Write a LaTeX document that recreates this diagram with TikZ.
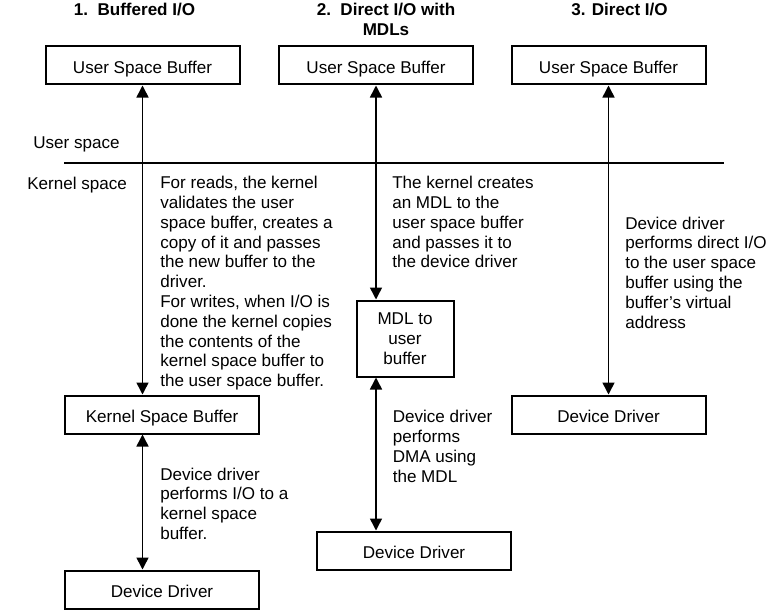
\documentclass[tikz,border=0pt]{standalone}
\usepackage{fontspec}
\setmainfont{Liberation Sans}
\usepackage{tikz}
\usetikzlibrary{positioning,arrows.meta}

\tikzset{
  box/.style={draw, line width=1.5pt, minimum width=145.5pt, minimum height=28.5pt, inner sep=0pt},
  oneline/.style={text height=11.5pt, text depth=0pt},
  note/.style={anchor=north west, inner sep=0pt, align=left},
  title/.style={anchor=north, inner sep=0pt, align=center, font=\fontsize{12.8}{14.85}\selectfont\bfseries},
  link/.style={<->, line width=1.15pt, >={Triangle[width=9pt,length=9pt]}}
}

\begin{document}
\begin{tikzpicture}[x=0.75pt, y=-0.75pt, font=\fontsize{12.8}{14.85}\selectfont]
            \useasboundingbox (0,0) rectangle (774,610);

            % titles
            \node (t1) at (134.5,3) [title] {1.\ \ Buffered I/O};
            \node (t2) at (386,3) [title] {2.\ \ Direct I/O with\\MDLs};
            \node (t3) at (619.5,3) [title] {3. Direct I/O};

            % user space buffers
            \node (usb1) at (142.5,65.5) [box, oneline] {User Space Buffer};
            \node (usb2) at (376,65.5) [box, oneline] {User Space Buffer};
            \node (usb3) at (608.5,65.5) [box, oneline] {User Space Buffer};

            % user / kernel boundary
            \node (user) at (33,136.5) [note] {User space};
            \node (kernel) at (27,176.5) [note] {Kernel space};
            \coordinate (lineL) at (64,163);
            \coordinate (lineR) at (724,163);
            \draw[line width=1.5pt] (lineL) -- (lineR);

            % kernel side boxes
            \node (ksb) at (162,414.5) [box, oneline] {Kernel Space Buffer};
            \node (dd1) at (162,589.5) [box, oneline] {Device Driver};
            \node (mdl) at (405,338.5) [box, minimum width=72.75pt, minimum height=57pt, align=center] {MDL to\\user\\buffer};
            \node (dd2) at (414,550.5) [box, oneline] {Device Driver};
            \node (dd3) at (608.5,414.5) [box, oneline] {Device Driver};

            % notes
            \node (n1) at (160,176) [note] {For reads, the kernel\\validates the user\\space buffer, creates a\\copy of it and passes\\the new buffer to the\\driver.\\For writes, when I/O is\\done the kernel copies\\the contents of the\\kernel space buffer to\\the user space buffer.};
            \node (n2) at (160,467.5) [note] {Device driver\\performs I/O to a\\kernel space\\buffer.};
            \node (n3) at (392,176) [note] {The kernel creates\\an MDL to the\\user space buffer\\and passes it to\\the device driver};
            \node (n4) at (392.5,410) [note] {Device driver\\performs\\DMA using\\the MDL};
            \node (n5) at (625,216.5) [note] {Device driver\\performs direct I/O\\to the user space\\buffer using the\\buffer’s virtual\\address};

            % arrows
            \draw[link] (usb1.south) -- (usb1.south |- ksb.north);
            \draw[link] (usb1.south |- ksb.south) -- (usb1.south |- dd1.north);
            \draw[link] (usb2.south) -- (usb2.south |- mdl.north);
            \draw[link] (usb2.south |- mdl.south) -- (usb2.south |- dd2.north);
            \draw[link] (usb3) -- (dd3);
        \end{tikzpicture}
\end{document}
